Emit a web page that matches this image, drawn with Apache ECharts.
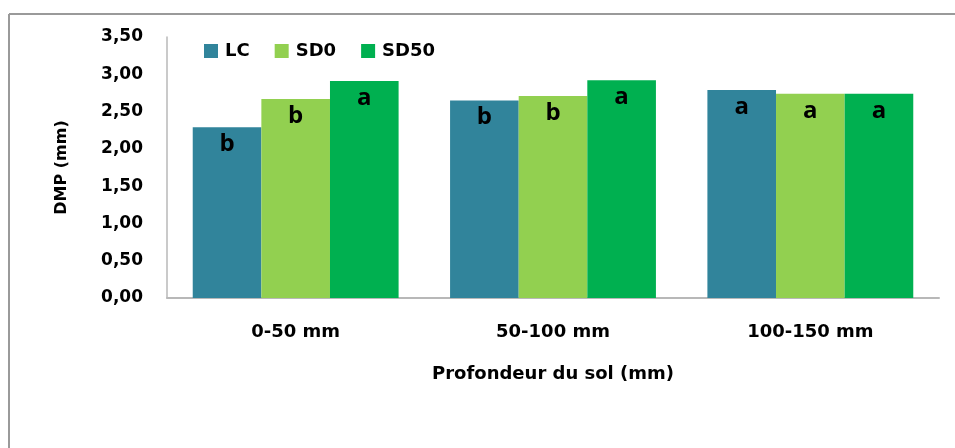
<!DOCTYPE html>
<html><head><meta charset="utf-8">
<script src="https://cdn.jsdelivr.net/npm/echarts@6/dist/echarts.min.js"></script>
<style>html,body{margin:0;padding:0;background:#fff}#c{width:955px;height:448px}</style>
</head><body><div id="c"></div>
<script>
const categories = ['0-50 mm', '50-100 mm', '100-150 mm'];
const seriesNames = ['LC', 'SD0', 'SD50'];
const valuesLC = [2.29, 2.65, 2.79];
const valuesSD0 = [2.67, 2.71, 2.74];
const valuesSD50 = [2.91, 2.92, 2.74];
const lettersLC = ['b', 'b', 'a'];
const lettersSD0 = ['b', 'b', 'a'];
const lettersSD50 = ['a', 'a', 'a'];
const colors = ['#31849B', '#92D050', '#00B050'];

const font = '"DejaVu Sans", Verdana, sans-serif';
const lfont = '"Open Sans", sans-serif';
function mk(name, vals, letters, color) {
  return {
    name, type: 'bar', data: vals, barGap: '0%', barCategoryGap: '20%',
    itemStyle: { color },
    label: {
      show: true, position: 'insideTop', distance: 5,
      formatter: p => letters[p.dataIndex],
      color: '#000', fontSize: 24, fontWeight: 'bold', fontFamily: lfont
    }
  };
}
const chart = echarts.init(document.getElementById('c'));
chart.setOption({
  animation: false,
  backgroundColor: '#fff',
  graphic: [
    { type: 'line', shape: { x1: 9, y1: 14, x2: 955, y2: 14 }, style: { stroke: '#9a9a9a', lineWidth: 2 } },
    { type: 'line', shape: { x1: 9, y1: 14, x2: 9, y2: 448 }, style: { stroke: '#9a9a9a', lineWidth: 2 } }
  ],
  legend: {
    left: 199, top: 37, itemWidth: 14, itemHeight: 14, itemGap: 25,
    icon: 'rect',
    data: seriesNames,
    textStyle: { fontSize: 18, fontWeight: 'bold', fontFamily: font, color: '#000', padding: [0,0,0,2] }
  },
  grid: { left: 167, right: 16, top: 37, bottom: 150 },
  xAxis: {
    type: 'category', data: categories,
    axisLine: { lineStyle: { color: '#b8b8b8', width: 2 } },
    axisTick: { show: false },
    axisLabel: { margin: 25, fontSize: 18, fontWeight: 'bold', fontFamily: font, color: '#000' },
    name: 'Profondeur du sol (mm)', nameLocation: 'middle', nameGap: 67,
    nameTextStyle: { fontSize: 18, fontWeight: 'bold', fontFamily: font, color: '#000' }
  },
  yAxis: {
    type: 'value', min: 0, max: 3.5, interval: 0.5,
    axisLine: { show: true, lineStyle: { color: '#b8b8b8', width: 1.5 } },
    axisTick: { show: false },
    splitLine: { show: false },
    axisLabel: { margin: 24, fontSize: 17, fontWeight: 'bold', fontFamily: font, color: '#000',
      formatter: v => v.toFixed(2).replace('.', ',') },
    name: 'DMP (mm)', nameLocation: 'middle', nameGap: 97, nameRotate: 90,
    nameTextStyle: { fontSize: 16, fontFamily: font, color: '#000', fontWeight: 'bold' }
  },
  series: [
    mk(seriesNames[0], valuesLC, lettersLC, colors[0]),
    mk(seriesNames[1], valuesSD0, lettersSD0, colors[1]),
    mk(seriesNames[2], valuesSD50, lettersSD50, colors[2])
  ]
});
</script></body></html>
